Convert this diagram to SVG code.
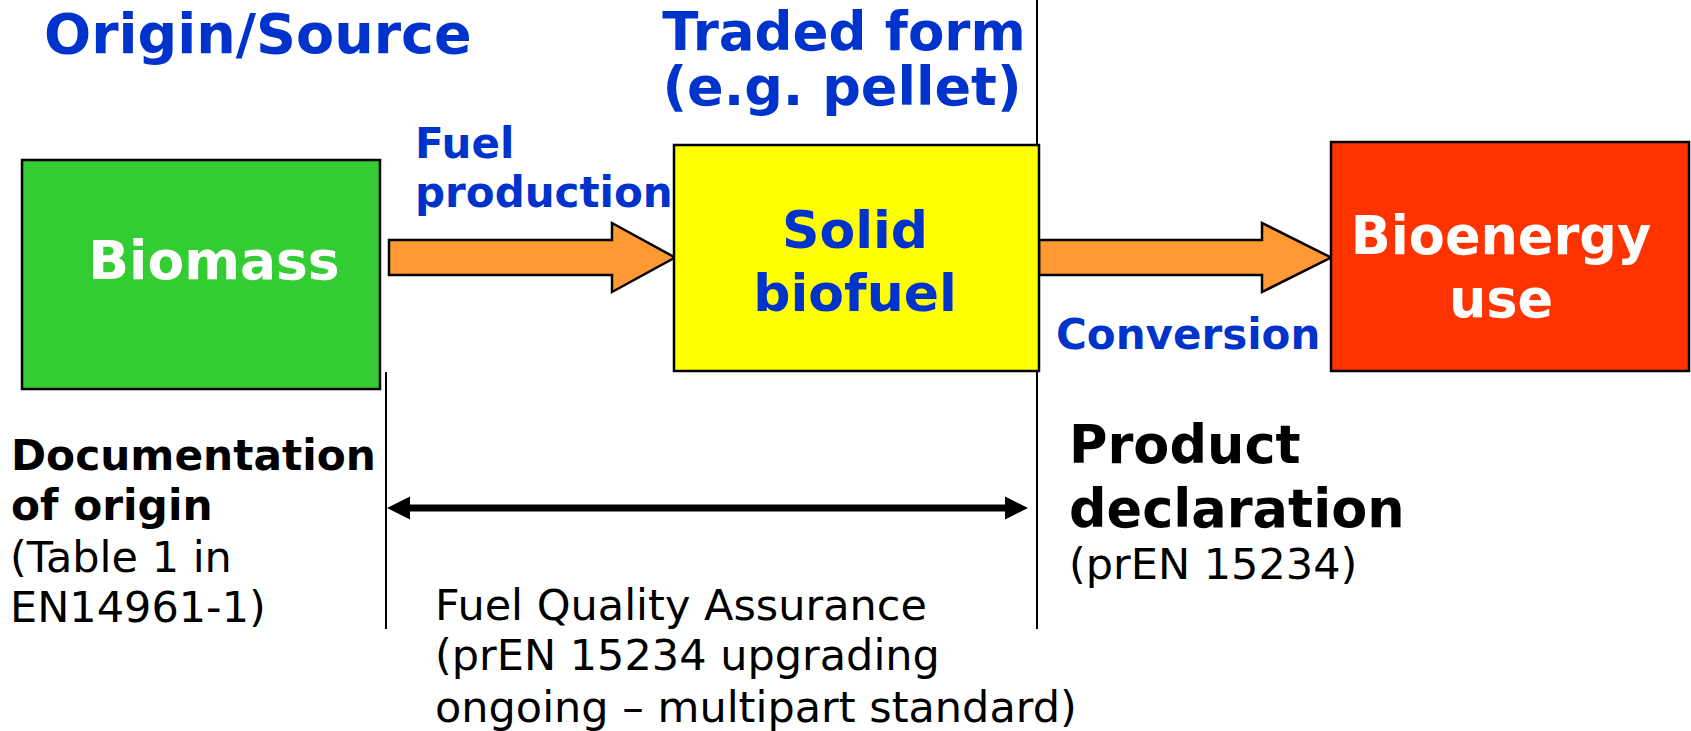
<svg xmlns="http://www.w3.org/2000/svg" width="1691" height="731" viewBox="0 0 1691 731">
<style>
.hb{font-family:"DejaVu Sans",Verdana,sans-serif;font-weight:bold;fill:#0033CC}
.wb{font-family:"DejaVu Sans",Verdana,sans-serif;font-weight:bold;fill:#FFFFFF}
.kb{font-family:"DejaVu Sans",Verdana,sans-serif;font-weight:bold;fill:#000000}
.kr{font-family:"DejaVu Sans",Verdana,sans-serif;fill:#000000;font-size:43px}
.box{stroke:#000000;stroke-width:2.5}
.flow{fill:#FF9933;stroke:#000000;stroke-width:2.5;stroke-linejoin:miter}
.rule{stroke:#000000;stroke-width:2;fill:none}
</style>
<rect width="1691" height="731" fill="#FFFFFF"/>
<g id="connectors">
<polygon class="flow" points="389,240 612,240 612,223 675,257.5 612,292 612,275 389,275"/>
<polygon class="flow" points="1039,240 1262,240 1262,223 1331,257.5 1262,292 1262,275 1039,275"/>
<line x1="408" y1="508" x2="1007" y2="508" stroke="#000000" stroke-width="7"/>
<polygon points="387,508 410,496.5 410,519.5" fill="#000000"/>
<polygon points="1028,508 1005,496.5 1005,519.5" fill="#000000"/>
</g>
<g id="dividers">
<line class="rule" x1="386" y1="372" x2="386" y2="629"/>
<line class="rule" x1="1037" y1="0" x2="1037" y2="629"/>
</g>
<g id="node-biomass">
<rect class="box" x="22" y="160" width="358" height="229" fill="#33CC33"/>
<text class="wb" x="214" y="279" font-size="53.5" text-anchor="middle">Biomass</text>
</g>
<g id="node-solid-biofuel">
<rect class="box" x="674" y="145" width="365" height="226" fill="#FFFF00"/>
<text class="hb" font-size="52" text-anchor="middle"><tspan x="855" y="248">Solid</tspan><tspan x="855" y="311">biofuel</tspan></text>
</g>
<g id="node-bioenergy">
<rect class="box" x="1331" y="142" width="358" height="229" fill="#FF3300"/>
<text class="wb" font-size="52.5" text-anchor="middle"><tspan x="1501" y="254">Bioenergy</tspan><tspan x="1501" y="317">use</tspan></text>
</g>
<g id="headings">
<text class="hb" x="44" y="53" font-size="55.5">Origin/Source</text>
<text class="hb" text-anchor="middle"><tspan x="844" y="50" font-size="53">Traded form</tspan><tspan x="842" y="105" font-size="54">(e.g. pellet)</tspan></text>
</g>
<g id="flow-labels">
<text class="hb" font-size="42"><tspan x="415" y="158">Fuel</tspan><tspan x="415" y="207">production</tspan></text>
<text class="hb" x="1056" y="349" font-size="42">Conversion</text>
</g>
<g id="doc-origin">
<text class="kb" font-size="42.3"><tspan x="11" y="470">Documentation</tspan><tspan x="11" y="520">of origin</tspan></text>
<text class="kr"><tspan x="10" y="572">(Table 1 in</tspan><tspan x="10" y="622">EN14961-1)</tspan></text>
</g>
<g id="quality-assurance">
<text class="kr"><tspan x="435" y="620">Fuel Quality Assurance</tspan><tspan x="435" y="670">(prEN 15234 upgrading</tspan><tspan x="435" y="722">ongoing – multipart standard)</tspan></text>
</g>
<g id="product-declaration">
<text class="kb" font-size="52.5"><tspan x="1069" y="463">Product</tspan><tspan x="1069" y="527">declaration</tspan></text>
<text class="kr" x="1069" y="579">(prEN 15234)</text>
</g>
</svg>
